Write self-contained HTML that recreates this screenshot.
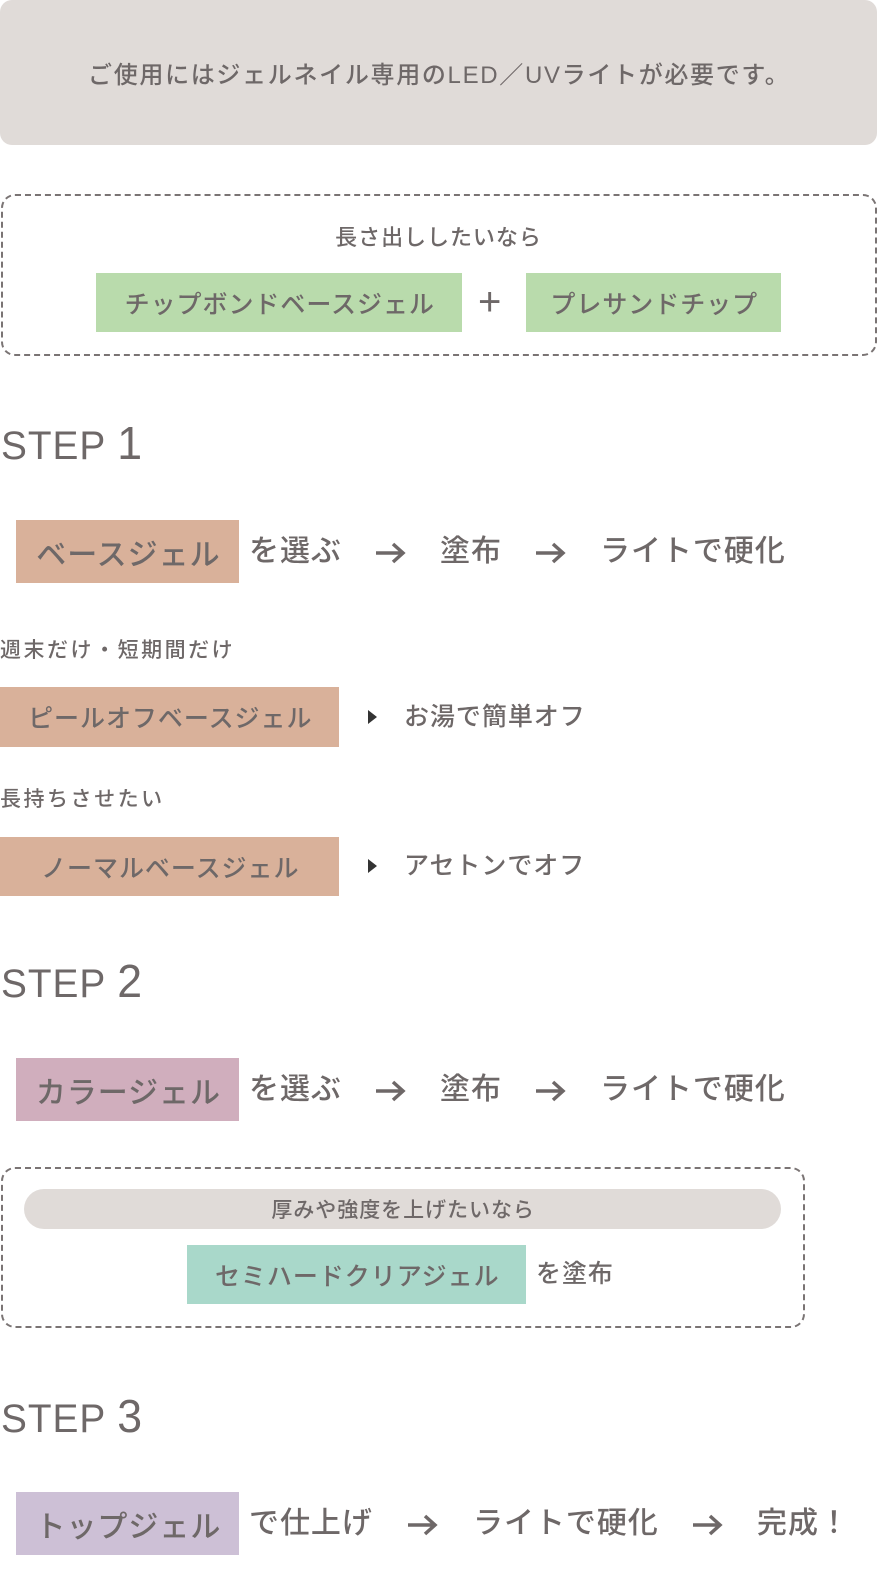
<!DOCTYPE html>
<html><head><meta charset="utf-8"><style>
body{margin:0;width:880px;height:1574px;position:relative;background:#fff;font-family:"Liberation Sans","Noto Sans CJK JP",sans-serif;color:#6e6868;overflow:hidden;font-weight:500;letter-spacing:0.06em}
div{position:absolute;box-sizing:border-box}
.t{white-space:nowrap;line-height:1}
.box{display:flex;align-items:center;justify-content:center;white-space:nowrap;padding-left:0.06em}
.dash{border:2px dashed #7a7474;border-radius:14px}
.step{font-size:40px;left:1px;letter-spacing:1px;transform:scaleX(0.97);transform-origin:left}
.step span{font-size:46px}
.tri{width:0;height:0;border-left:9px solid #333;border-top:7px solid transparent;border-bottom:7px solid transparent}
svg.ar{position:absolute;width:32px;height:24px}
</style></head><body>
<div class="box" style="left:0;top:0;width:877px;height:145px;background:#e0dbd8;border-radius:12px;font-size:24px;letter-spacing:0.07em">ご使用にはジェルネイル専用のLED／UVライトが必要です。</div>

<div class="dash" style="left:1px;top:194px;width:876px;height:162px"></div>
<div class="t" style="left:0;width:877px;text-align:center;top:227px;font-size:22px">長さ出ししたいなら</div>
<div class="box" style="left:96px;top:273px;width:366px;height:59px;background:#b9dbac;font-size:25px">チップボンドベースジェル</div>
<div class="t" style="left:478px;top:282px;font-size:40px;letter-spacing:0">+</div>
<div class="box" style="left:526px;top:273px;width:255px;height:59px;background:#b9dbac;font-size:25px">プレサンドチップ</div>

<div class="t step" style="top:420px">STEP <span>1</span></div>
<div class="box" style="left:16px;top:520px;width:223px;height:63px;background:#d9b19a;font-size:30px">ベースジェル</div>
<div class="t" style="left:249px;top:537px;font-size:30px">を選ぶ</div>
<svg class="ar" style="left:374px;top:541px" viewBox="0 0 32 24"><path d="M2 12H29M19 3L29 12L19 21" fill="none" stroke="#6e6868" stroke-width="3.5"/></svg>
<div class="t" style="left:440px;top:537px;font-size:30px">塗布</div>
<svg class="ar" style="left:534px;top:541px" viewBox="0 0 32 24"><path d="M2 12H29M19 3L29 12L19 21" fill="none" stroke="#6e6868" stroke-width="3.5"/></svg>
<div class="t" style="left:600px;top:537px;font-size:30px">ライトで硬化</div>

<div class="t" style="left:0;top:640px;font-size:21px;letter-spacing:0.12em">週末だけ・短期間だけ</div>
<div class="box" style="left:0;top:687px;width:339px;height:60px;background:#d9b19a;font-size:25px">ピールオフベースジェル</div>
<div class="tri" style="left:368px;top:710px"></div>
<div class="t" style="left:404px;top:705px;font-size:25px">お湯で簡単オフ</div>

<div class="t" style="left:0;top:789px;font-size:21px;letter-spacing:0.12em">長持ちさせたい</div>
<div class="box" style="left:0;top:837px;width:339px;height:59px;background:#d9b19a;font-size:25px">ノーマルベースジェル</div>
<div class="tri" style="left:368px;top:859px"></div>
<div class="t" style="left:404px;top:854px;font-size:25px">アセトンでオフ</div>

<div class="t step" style="top:958px">STEP <span>2</span></div>
<div class="box" style="left:16px;top:1058px;width:223px;height:63px;background:#d0aebd;font-size:30px">カラージェル</div>
<div class="t" style="left:249px;top:1075px;font-size:30px">を選ぶ</div>
<svg class="ar" style="left:374px;top:1079px" viewBox="0 0 32 24"><path d="M2 12H29M19 3L29 12L19 21" fill="none" stroke="#6e6868" stroke-width="3.5"/></svg>
<div class="t" style="left:440px;top:1075px;font-size:30px">塗布</div>
<svg class="ar" style="left:534px;top:1079px" viewBox="0 0 32 24"><path d="M2 12H29M19 3L29 12L19 21" fill="none" stroke="#6e6868" stroke-width="3.5"/></svg>
<div class="t" style="left:600px;top:1075px;font-size:30px">ライトで硬化</div>

<div class="dash" style="left:1px;top:1167px;width:804px;height:161px"></div>
<div class="box" style="left:24px;top:1189px;width:757px;height:40px;background:#e0dbd8;border-radius:20px;font-size:21px">厚みや強度を上げたいなら</div>
<div class="box" style="left:187px;top:1245px;width:339px;height:59px;background:#a9d8ca;font-size:25px">セミハードクリアジェル</div>
<div class="t" style="left:536px;top:1262px;font-size:25px">を塗布</div>

<div class="t step" style="top:1393px">STEP <span>3</span></div>
<div class="box" style="left:16px;top:1492px;width:223px;height:63px;background:#cdc0d6;font-size:30px">トップジェル</div>
<div class="t" style="left:249px;top:1509px;font-size:30px">で仕上げ</div>
<svg class="ar" style="left:406px;top:1513px" viewBox="0 0 32 24"><path d="M2 12H29M19 3L29 12L19 21" fill="none" stroke="#6e6868" stroke-width="3.5"/></svg>
<div class="t" style="left:473px;top:1509px;font-size:30px">ライトで硬化</div>
<svg class="ar" style="left:691px;top:1513px" viewBox="0 0 32 24"><path d="M2 12H29M19 3L29 12L19 21" fill="none" stroke="#6e6868" stroke-width="3.5"/></svg>
<div class="t" style="left:757px;top:1509px;font-size:30px">完成！</div>
</body></html>
